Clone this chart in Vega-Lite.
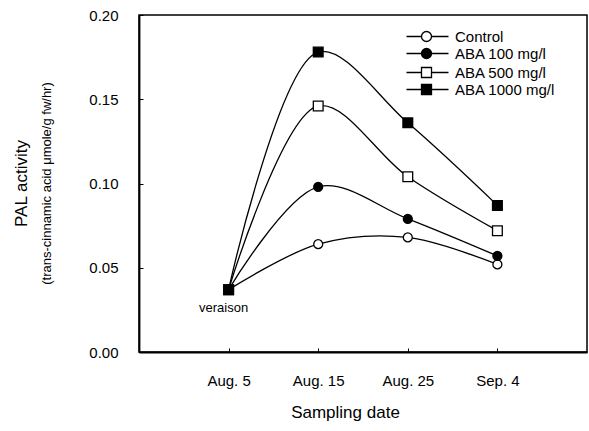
{
  "$schema": "https://vega.github.io/schema/vega-lite/v6.json",
  "width": 448,
  "height": 337,
  "autosize": "none",
  "padding": {"left": 139, "top": 15, "right": 2, "bottom": 79},
  "background": "white",
  "config": {
    "font": "Liberation Sans",
    "view": {"stroke": "black", "strokeWidth": 1.5},
    "axis": {"grid": false, "domainColor": "black", "domainWidth": 1.8, "tickColor": "black", "labelColor": "black", "titleColor": "black", "titleFontWeight": "normal"},
    "legend": {
      "title": null,
      "orient": "none",
      "legendX": 280,
      "padding": 0,
      "labelFontSize": 15,
      "labelColor": "black",
      "labelOffset": 21,
      "symbolSize": 100,
      "rowPadding": 0,
      "symbolStrokeColor": "black",
      "symbolStrokeWidth": 1.3
    }
  },
  "title": {
    "text": "PAL activity",
    "subtitle": "(trans-cinnamic acid μmole/g fw/hr)",
    "orient": "left",
    "anchor": "middle",
    "fontSize": 17,
    "fontWeight": "normal",
    "subtitleFontSize": 13,
    "subtitleFont": "Liberation Sans",
    "color": "black",
    "subtitleColor": "black",
    "subtitlePadding": 10,
    "offset": 34
  },
  "data": {
    "values": [
      {"date": "Aug. 5", "series": "Control", "value": 0.037},
      {"date": "Aug. 15", "series": "Control", "value": 0.064},
      {"date": "Aug. 25", "series": "Control", "value": 0.068},
      {"date": "Sep. 4", "series": "Control", "value": 0.052},
      {"date": "Aug. 5", "series": "ABA 100 mg/l", "value": 0.037},
      {"date": "Aug. 15", "series": "ABA 100 mg/l", "value": 0.098},
      {"date": "Aug. 25", "series": "ABA 100 mg/l", "value": 0.079},
      {"date": "Sep. 4", "series": "ABA 100 mg/l", "value": 0.057},
      {"date": "Aug. 5", "series": "ABA 500 mg/l", "value": 0.037},
      {"date": "Aug. 15", "series": "ABA 500 mg/l", "value": 0.146},
      {"date": "Aug. 25", "series": "ABA 500 mg/l", "value": 0.104},
      {"date": "Sep. 4", "series": "ABA 500 mg/l", "value": 0.072},
      {"date": "Aug. 5", "series": "ABA 1000 mg/l", "value": 0.037},
      {"date": "Aug. 15", "series": "ABA 1000 mg/l", "value": 0.178},
      {"date": "Aug. 25", "series": "ABA 1000 mg/l", "value": 0.136},
      {"date": "Sep. 4", "series": "ABA 1000 mg/l", "value": 0.087}
    ]
  },
  "encoding": {
    "x": {
      "field": "date",
      "type": "ordinal",
      "sort": ["Aug. 5", "Aug. 15", "Aug. 25", "Sep. 4"],
      "scale": {"type": "point", "padding": 1},
      "axis": {"title": "Sampling date", "titleFontSize": 17, "titlePadding": 16, "titleX": 206, "labelFontSize": 15, "labelAngle": 0, "tickSize": -4, "labelPadding": 25}
    },
    "y": {
      "field": "value",
      "type": "quantitative",
      "scale": {"domain": [0, 0.2]},
      "axis": {"title": null, "values": [0, 0.05, 0.1, 0.15, 0.2], "format": ".2f", "labelFontSize": 15, "tickSize": -4, "labelPadding": 25}
    }
  },
  "resolve": {"scale": {"fill": "independent"}, "legend": {"fill": "independent"}},
  "layer": [
    {
      "mark": {"type": "line", "interpolate": "catmull-rom", "color": "black", "strokeWidth": 1.3},
      "encoding": {"detail": {"field": "series"}}
    },
    {
      "transform": [{"filter": {"field": "series", "oneOf": ["Control", "ABA 100 mg/l"]}}],
      "mark": {"type": "circle", "filled": true, "stroke": "black", "strokeWidth": 1.3, "opacity": 1, "size": 80},
      "encoding": {
        "fill": {
          "field": "series",
          "type": "nominal",
          "scale": {"domain": ["Control", "ABA 100 mg/l"], "range": ["white", "black"]},
          "legend": {
            "legendY": 14,
            "symbolType": "M-4,0H-1M1,0H4.4M1,0A1,1 0 1,1 -1,0A1,1 0 1,1 1,0Z",
            "encode": {"symbols": {"stroke": {"value": "black"}, "strokeWidth": {"value": 1.3}}}
          }
        }
      }
    },
    {
      "transform": [{"filter": {"field": "series", "oneOf": ["ABA 500 mg/l", "ABA 1000 mg/l"]}}],
      "mark": {"type": "square", "filled": true, "stroke": "black", "strokeWidth": 1.3, "opacity": 1, "size": 95},
      "encoding": {
        "fill": {
          "field": "series",
          "type": "nominal",
          "scale": {"domain": ["ABA 500 mg/l", "ABA 1000 mg/l"], "range": ["white", "black"]},
          "legend": {
            "legendY": 50,
            "symbolType": "M-4,0H-1M1,0H4.4M-1,-1H1V1H-1Z",
            "encode": {"symbols": {"stroke": {"value": "black"}, "strokeWidth": {"value": 1.3}}}
          }
        }
      }
    },
    {
      "data": {"values": [{"date": "Aug. 5", "value": 0.037, "note": "veraison"}]},
      "mark": {"type": "text", "fontSize": 13, "dy": 18, "dx": -5, "color": "black"},
      "encoding": {"text": {"field": "note"}}
    }
  ]
}
